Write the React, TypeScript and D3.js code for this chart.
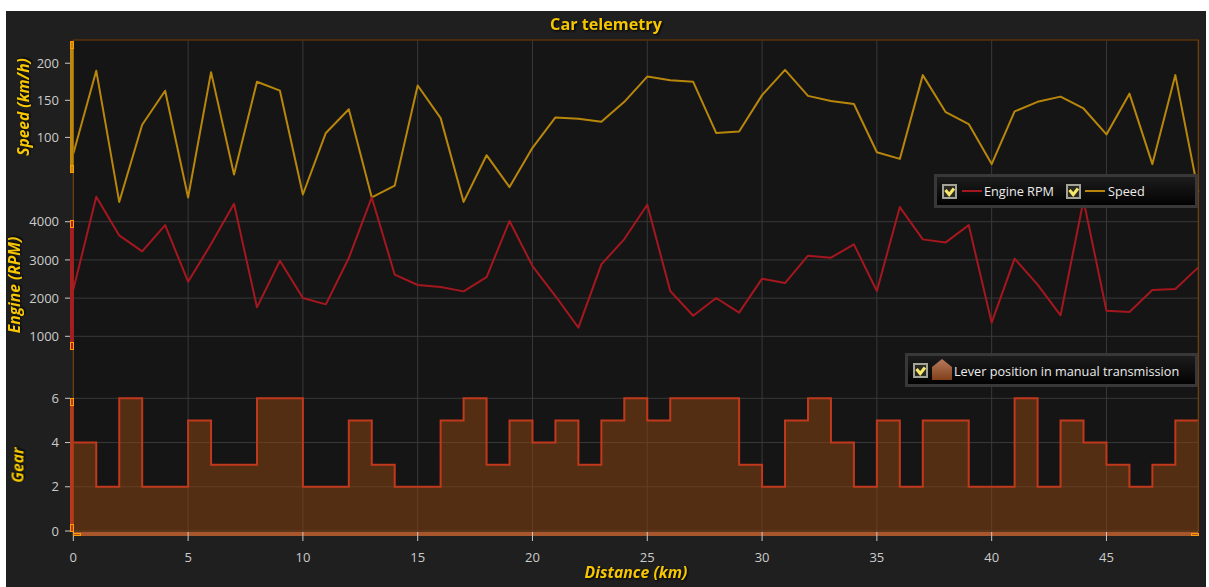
import React from "react";
import * as d3 from "d3";

const speedValues = [78,190,13,117,163,19,188,50,175,163,23,106,138,19,35,170,126,13,76,33,86,127,125,121,148,182,177,175,106,108,157,191,156,149,145,80,71,184,134,118,64,135,148,155,139,104,159,64,184,26];
const rpmValues = [2220,4654,3642,3224,3912,2430,3415,4470,1759,2979,2003,1837,3049,4636,2613,2343,2290,2177,2552,4017,2840,2055,1227,2883,3546,4444,2186,1540,2003,1619,2509,2395,3110,3058,3407,2186,4383,3538,3459,3912,1357,3032,2352,1549,4560,1671,1637,2212,2238,2805];
const gearValues = [4,2,6,2,2,5,3,3,6,6,2,2,5,3,2,2,5,6,3,5,4,5,3,5,6,5,6,6,6,3,2,5,6,4,2,5,2,5,5,2,2,6,2,5,4,3,2,3,5,5];
const xTicks = [0,5,10,15,20,25,30,35,40,45];
const speedTicks = [100,150,200];
const rpmTicks = [1000,2000,3000,4000];
const gearTicks = [0,2,4,6];

const FONT = "'Open Sans', 'Noto Sans', sans-serif";
const YELLOW = "#f6c700";
const LEFT = 73.3, RIGHT = 1198.3, TOP = 40, BOTTOM = 532;

const x = d3.scaleLinear().domain([0, 49]).range([LEFT, RIGHT]);
const ySpeed = d3.scaleLinear().domain([52, 230]).range([173, 41]);
const yRpm = d3.scaleLinear().domain([642, 4045]).range([350, 220]);
const yGear = d3.scaleLinear().domain([0, 6]).range([531, 398.3]);

const idx = (_: number, i: number) => x(i);
const speedPath = d3.line<number>().x(idx).y((d) => ySpeed(d))(speedValues) as string;
const rpmPath = d3.line<number>().x(idx).y((d) => yRpm(d))(rpmValues) as string;
const gearLine = d3.line<number>().x(idx).y((d) => yGear(d)).curve(d3.curveStepAfter)(gearValues) as string;
const gearArea = d3.area<number>().x(idx).y0(BOTTOM).y1((d) => yGear(d)).curve(d3.curveStepAfter)(gearValues) as string;

const axes = [
  { scale: ySpeed, ticks: speedTicks, top: 41, bottom: 173, color: "#bd880c", grid: false },
  { scale: yRpm, ticks: rpmTicks, top: 220, bottom: 350, color: "#a81c22", grid: true },
  { scale: yGear, ticks: gearTicks, top: 398, bottom: 532, color: "#b5391d", grid: true },
];

const titleStyle = { filter: "drop-shadow(1px 1px 1px #000)" };

function Handle({ x: hx, y, w, h }: { x: number; y: number; w: number; h: number }) {
  return <rect x={hx + 0.5} y={y + 0.5} width={w - 1} height={h - 1} fill="none" stroke="#ff9a00" strokeWidth={1} />;
}

function CheckBox({ x: cx, y }: { x: number; y: number }) {
  return (
    <g transform={`translate(${cx},${y})`}>
      <rect x={1} y={1} width={13} height={13} fill="#2a2a22" stroke="#a3a39a" strokeWidth={2} />
      <path d="M3.5 6 L7.2 10.5 L12 4.5" fill="none" stroke="#f6e66a" strokeWidth={3} />
    </g>
  );
}

function LegendBox({ x: lx, y, w, h }: { x: number; y: number; w: number; h: number }) {
  return (
    <rect x={lx + 1.5} y={y + 1.5} width={w - 3} height={h - 3} fill="url(#legendBg)" stroke="#383838" strokeWidth={3} />
  );
}

const legendText = { fontFamily: FONT, fontSize: 12.7, fill: "#ececec" };

export default function App() {
  return (
    <svg width={1209} height={587} style={{ position: "absolute", left: 0, top: 0, display: "block" }}>
      <defs>
        <linearGradient id="legendBg" x1="0" y1="0" x2="0" y2="1">
          <stop offset="0" stopColor="#1e1e1e" stopOpacity={0.93} />
          <stop offset="1" stopColor="#000" stopOpacity={0.96} />
        </linearGradient>
        <linearGradient id="gearIcon" x1="0" y1="0" x2="0" y2="1">
          <stop offset="0" stopColor="#b87a5c" />
          <stop offset="1" stopColor="#80401a" />
        </linearGradient>
      </defs>
      <rect x={6} y={11} width={1200} height={576} fill="#1f1f1f" />
      <rect x={LEFT} y={TOP} width={RIGHT - LEFT} height={BOTTOM - TOP} fill="#151515" />

      {xTicks.map((t) => (
        <line key={t} x1={x(t)} x2={x(t)} y1={TOP} y2={BOTTOM} stroke="#393939" strokeWidth={1} />
      ))}
      {axes.filter((a) => a.grid).map((a) =>
        a.ticks.map((t) => (
          <line key={`${a.color}${t}`} x1={LEFT} x2={RIGHT} y1={a.scale(t)} y2={a.scale(t)} stroke="#393939" strokeWidth={1} />
        ))
      )}

      <path d={gearArea} fill="#8b4513" fillOpacity={0.54} />
      <path d={gearLine} fill="none" stroke="#c0391c" strokeWidth={2} />
      <path d={speedPath} fill="none" stroke="#b8860b" strokeWidth={2} strokeLinejoin="round" />
      <path d={rpmPath} fill="none" stroke="#a5171f" strokeWidth={2} strokeLinejoin="round" />

      {/* plot frame */}
      <line x1={LEFT - 0.5} x2={RIGHT + 0.5} y1={TOP} y2={TOP} stroke="#5a3008" strokeWidth={1.5} />
      <line x1={RIGHT} x2={RIGHT} y1={TOP} y2={BOTTOM} stroke="#7a4208" strokeWidth={1.2} />
      <line x1={LEFT} x2={LEFT} y1={TOP} y2={BOTTOM} stroke="#7a4208" strokeWidth={1} />

      {/* y axes */}
      {axes.map((a) => (
        <g key={a.color}>
          <rect x={70} y={a.top} width={3.6} height={a.bottom - a.top} fill={a.color} />
          {a.ticks.map((t) => (
            <g key={t}>
              <line x1={65} x2={70} y1={a.scale(t)} y2={a.scale(t)} stroke="#c8c8c8" strokeWidth={1} />
              <text x={59} y={a.scale(t) + 4.6} textAnchor="end" fontFamily={FONT} fontSize={13} fill="#cccccc">{t}</text>
            </g>
          ))}
          <Handle x={70} y={a.top} w={4} h={8} />
          <Handle x={70} y={a.bottom - 8} w={4} h={8} />
        </g>
      ))}

      {/* x axis */}
      <rect x={LEFT} y={BOTTOM} width={RIGHT - LEFT} height={4} fill="#a8562c" />
      {xTicks.map((t) => (
        <g key={t}>
          <line x1={x(t)} x2={x(t)} y1={BOTTOM} y2={541} stroke="#c8c8c8" strokeWidth={1} />
          <text x={x(t)} y={561.5} textAnchor="middle" fontFamily={FONT} fontSize={13} fill="#cccccc">{t}</text>
        </g>
      ))}
      <Handle x={73} y={533} w={8} h={3} />
      <Handle x={1191} y={533} w={8} h={3} />

      {/* titles */}
      <text x={606} y={30} textAnchor="middle" fontFamily={FONT} fontWeight={700} fontSize={16.2} fill={YELLOW} style={titleStyle}>Car telemetry</text>
      <text x={636} y={578} textAnchor="middle" fontFamily={FONT} fontWeight={700} fontStyle="italic" fontSize={15.8} fill={YELLOW} style={titleStyle}>Distance (km)</text>
      <text transform="translate(29,107) rotate(-90)" textAnchor="middle" fontFamily={FONT} fontWeight={700} fontStyle="italic" fontSize={15.6} fill={YELLOW} style={titleStyle}>Speed (km/h)</text>
      <text transform="translate(20,285) rotate(-90)" textAnchor="middle" fontFamily={FONT} fontWeight={700} fontStyle="italic" fontSize={15.6} fill={YELLOW} style={titleStyle}>Engine (RPM)</text>
      <text transform="translate(23.5,465) rotate(-90)" textAnchor="middle" fontFamily={FONT} fontWeight={700} fontStyle="italic" fontSize={15.6} fill={YELLOW} style={titleStyle}>Gear</text>

      {/* legend 1 */}
      <LegendBox x={934} y={174} w={264} h={34} />
      <CheckBox x={942} y={184} />
      <line x1={962} x2={982} y1={191} y2={191} stroke="#a5171f" strokeWidth={2} />
      <text x={984} y={196} {...legendText}>Engine RPM</text>
      <CheckBox x={1066} y={184} />
      <line x1={1085} x2={1105} y1={191} y2={191} stroke="#b8860b" strokeWidth={2} />
      <text x={1108} y={196} {...legendText}>Speed</text>

      {/* legend 2 */}
      <LegendBox x={905} y={353} w={293} h={34} />
      <CheckBox x={913} y={363} />
      <path d="M932 367 L942 359 L952 367 L952 380 L932 380 Z" fill="url(#gearIcon)" />
      <text x={954} y={375.5} {...legendText}>Lever position in manual transmission</text>
    </svg>
  );
}
